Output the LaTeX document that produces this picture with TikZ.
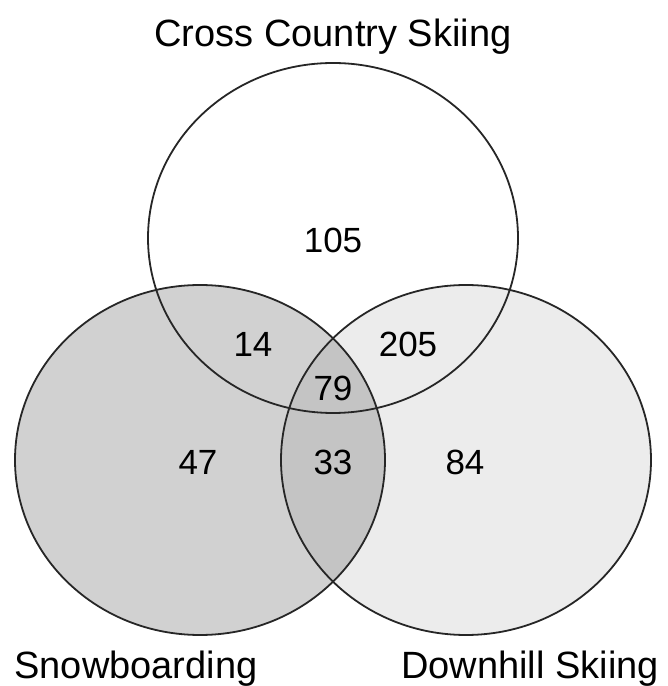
\documentclass[tikz,border=0pt]{standalone}
\usepackage{fontspec}
\setmainfont{Liberation Sans}
\usetikzlibrary{positioning,calc}
\definecolor{rimgray}{gray}{0.15}
\definecolor{snowfill}{gray}{0.82}
\definecolor{downfill}{gray}{0.925}
\definecolor{bothfill}{gray}{0.77}
\tikzset{
  ring/.style={draw=rimgray, line width=1.8pt},
  count/.style={font=\fontsize{35pt}{36pt}\selectfont, inner sep=0pt},
  setname/.style={font=\fontsize{38pt}{40pt}\selectfont, inner sep=0pt, anchor=base},
}
\begin{document}
\begin{tikzpicture}[x=1pt,y=1pt]
    \useasboundingbox (0,0) rectangle (668,686);
    \coordinate (cc) at (333,448);
    \coordinate (sb) at (200,226);
    \coordinate (dh) at (466,226);
    % shaded sets
    \fill[snowfill] (sb) ellipse [x radius=185, y radius=175];
    \fill[downfill] (dh) ellipse [x radius=185, y radius=175];
    \begin{scope}
      \clip (sb) ellipse [x radius=185, y radius=175];
      \fill[bothfill] (dh) ellipse [x radius=185, y radius=175];
    \end{scope}
    % outlines
    \draw[ring] (cc) ellipse [x radius=185, y radius=175];
    \draw[ring] (sb) ellipse [x radius=185, y radius=175];
    \draw[ring] (dh) ellipse [x radius=185, y radius=175];
    % counts
    \node[count] (n105) at (333,446) {105};
    \node[count] (n14) at (253,342) {14};
    \node[count] (n205) at (408,342) {205};
    \node[count] (n79) at (333,298) {79};
    \node[count] (n47) at (198,224) {47};
    \node[count] (n33) at (333,224) {33};
    \node[count] (n84) at (465,224) {84};
    % set names
    \node[setname] (ccname) at (333,639) {Cross Country Skiing};
    \node[setname] (sbname) at (136,8) {Snowboarding};
    \node[setname] (dhname) at (530,8) {Downhill Skiing};
\end{tikzpicture}
\end{document}
